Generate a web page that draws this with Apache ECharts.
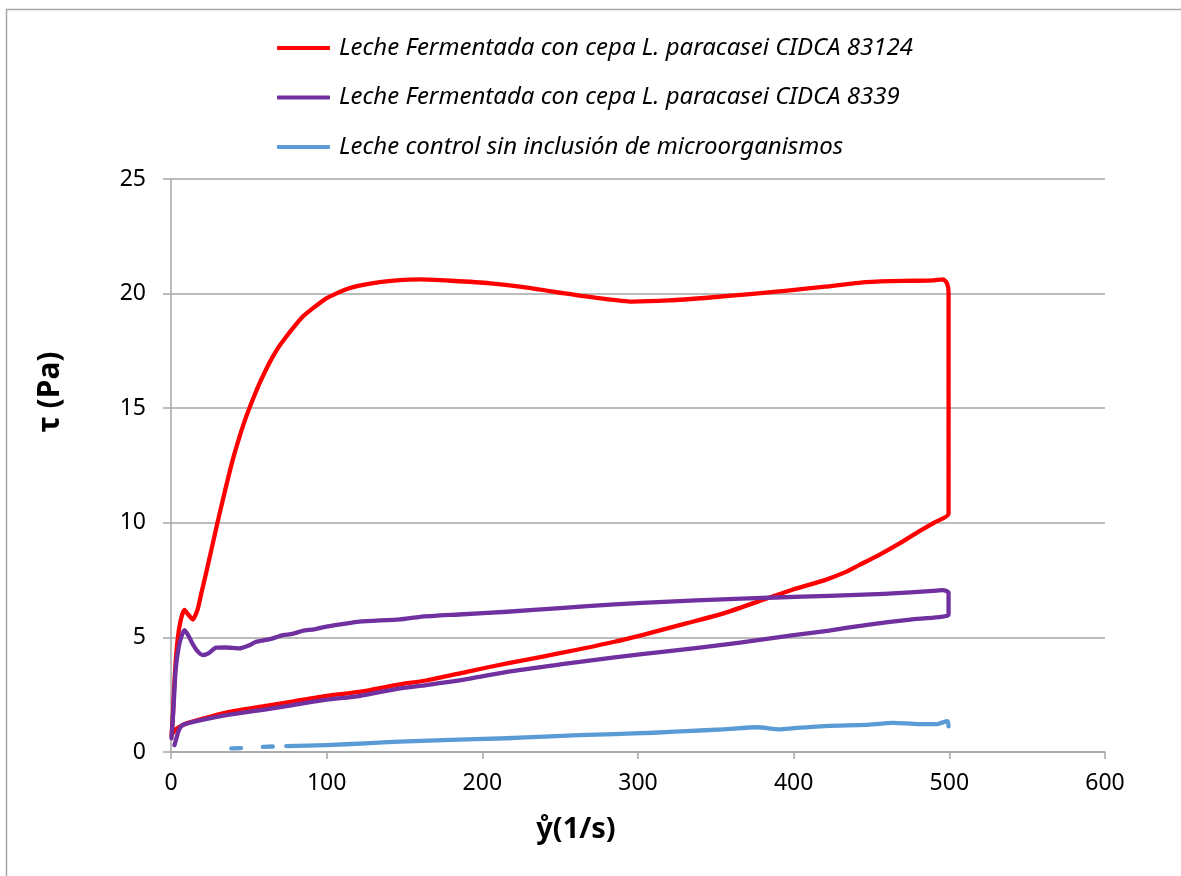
<!DOCTYPE html>
<html>
<head>
<meta charset="utf-8">
<script src="https://cdn.jsdelivr.net/npm/echarts@6/dist/echarts.min.js"></script>
<style>
html,body{margin:0;padding:0;background:#fff;}
#chart{width:1181px;height:876px;}
</style>
</head>
<body>
<div id="chart"></div>
<script>
// Series names
const seriesNames = [
  'Leche Fermentada con cepa L. paracasei CIDCA 83124',
  'Leche Fermentada con cepa L. paracasei CIDCA 8339',
  'Leche control sin inclusión de microorganismos'
];
// Axis ticks
const xTicks = [0, 100, 200, 300, 400, 500, 600];
const yTicks = [0, 5, 10, 15, 20, 25];

// Red: CIDCA 83124 (up curve then down curve) [shear rate, stress]
const redUp = [[0.4,0.7],[1.2,1.6],[2,2.8],[3.3,4.2],[5,5.3],[7,5.95],[8.7,6.2],[11,6.0],[14,5.78],[17,6.2],[19.4,6.9],[22,7.65],[24.7,8.45],[28,9.45],[31.2,10.4],[34,11.2],[37.6,12.2],[40.5,12.95],[44,13.75],[47,14.38],[50.5,15.03],[54,15.62],[57,16.1],[61,16.68],[65.4,17.25],[70,17.75],[74,18.12],[79,18.55],[84.7,19.0],[90,19.3],[95.4,19.58],[100,19.8],[106,20.0],[113,20.2],[121,20.35],[134,20.5],[145,20.58],[160,20.62],[180,20.56],[205,20.45],[230,20.25],[253,20.01],[275,19.8],[296,19.65],[320,19.7],[348,19.84],[372,19.98],[396,20.13],[420,20.3],[443,20.48],[462,20.54],[479,20.56],[490,20.58],[496,20.62],[498.5,20.45],[499.5,20.05],[499.5,15],[499.5,10.4]];
const redDown = [[490,10.0],[480,9.6],[468,9.1],[455,8.6],[442,8.15],[434,7.87],[420,7.5],[400,7.1],[377,6.56],[355,6.05],[331,5.61],[308,5.2],[285,4.81],[260,4.45],[238,4.15],[216,3.87],[190,3.5],[164,3.12],[147,2.95],[121,2.62],[100,2.45],[78,2.2],[60,2.0],[35.5,1.72],[20,1.45],[10,1.25],[5.5,1.1],[2.5,0.95],[1,0.8]];

// Purple: CIDCA 8339
const purpleUp = [[0.3,0.6],[1.5,1.8],[3,3.6],[5,4.6],[7,5.1],[8.7,5.32],[11,5.1],[14,4.7],[17,4.4],[20.4,4.23],[24,4.3],[29,4.55],[35,4.56],[44,4.52],[50,4.65],[54.7,4.81],[60,4.88],[65.4,4.96],[71.9,5.1],[78,5.15],[84.7,5.29],[92,5.35],[99.7,5.47],[110,5.58],[121,5.69],[147,5.79],[160,5.9],[185,6.0],[216,6.12],[250,6.28],[285,6.44],[320,6.56],[354,6.66],[388,6.74],[423,6.81],[458,6.9],[492,7.04],[496,7.06],[499.5,6.95],[499.5,6.5],[499.5,5.98]];
const purpleDown = [[475,5.78],[446,5.54],[423,5.3],[400,5.1],[377,4.88],[354,4.67],[320,4.4],[285,4.13],[250,3.82],[216,3.5],[192,3.2],[164,2.92],[147,2.78],[121,2.44],[100,2.28],[78.3,2.05],[60,1.85],[35.5,1.61],[20,1.4],[7.6,1.18],[5,0.95],[3.5,0.6],[2.2,0.3]];

// Blue: control (null = gap in the line)
const bluePts = [[38.7,0.16],[45,0.17],[50,null],[59,0.22],[65.4,0.24],[69,null],[74,0.26],[100,0.3],[125,0.38],[147,0.45],[175,0.52],[216,0.6],[240,0.67],[262,0.74],[285,0.78],[310,0.84],[331,0.91],[355,0.99],[377,1.08],[391,0.99],[400,1.04],[423,1.14],[446,1.18],[464,1.27],[480,1.22],[492,1.22],[498.8,1.35],[499.5,1.12]];

const colors = ['#FF0000', '#7030A0', '#5B9BD5'];
const toData = pts => pts.map(p => [p[0], p[1] === null ? '-' : p[1]]);

const chart = echarts.init(document.getElementById('chart'));
const fontFam = '"Noto Sans", "DejaVu Sans", sans-serif';
const mkSeries = (name, pts, color) => ({
  name: name,
  type: 'line',
  data: toData(pts),
  showSymbol: false,
  symbol: 'none',
  smooth: 0.2,
  connectNulls: false,
  lineStyle: { color: color, width: 4.3, cap: 'round', join: 'round' },
  itemStyle: { color: color },
  animation: false
});

chart.setOption({
  animation: false,
  backgroundColor: '#fff',
  color: colors,
  grid: { left: 171, right: 76, top: 179, bottom: 124, containLabel: false },
  legend: {
    orient: 'vertical',
    left: 277,
    top: 36,
    padding: 0,
    itemWidth: 53,
    itemHeight: 4,
    itemGap: 25.5,
    icon: 'roundRect',
    data: seriesNames,
    textStyle: { fontFamily: fontFam, fontStyle: 'italic', fontSize: 24, color: '#000', lineHeight: 24, padding: [0,0,0,4] }
  },
  xAxis: {
    type: 'value', min: 0, max: 600, interval: 100,
    axisLine: { show: true, lineStyle: { color: '#A6A6A6', width: 1.5 } },
    axisTick: { show: true, length: 7, lineStyle: { color: '#A6A6A6', width: 1.5 } },
    splitLine: { show: false },
    axisLabel: { color: '#000', fontFamily: fontFam, fontSize: 23, margin: 20,
      formatter: v => xTicks.includes(v) ? String(v) : '' }
  },
  yAxis: {
    type: 'value', min: 0, max: 25, interval: 5,
    axisLine: { show: true, lineStyle: { color: '#A6A6A6', width: 1.5 } },
    axisTick: { show: true, length: 8, lineStyle: { color: '#A6A6A6', width: 1.5 } },
    splitLine: { show: true, lineStyle: { color: '#A6A6A6', width: 1.5 } },
    axisLabel: { color: '#000', fontFamily: fontFam, fontSize: 23, margin: 25,
      formatter: v => yTicks.includes(v) ? String(v) : '' }
  },
  graphic: [
    { type: 'rect', shape: { x: 6.5, y: 9.5, width: 1400, height: 1200 }, style: { fill: 'none', stroke: '#A6A6A6', lineWidth: 1.5 }, silent: true, z: -1 },
    { type: 'text', x: 576, y: 830, style: { text: 'ẙ(1/s)', font: 'bold 29px "Noto Sans", sans-serif', fill: '#000', align: 'center', verticalAlign: 'middle' } },
    { type: 'text', x: 50, y: 392, rotation: Math.PI / 2, style: { text: 'τ (Pa)', font: 'bold 30px "Noto Sans", sans-serif', fill: '#000', align: 'center', verticalAlign: 'middle' } }
  ],
  series: [
    mkSeries(seriesNames[0], redUp.concat(redDown), colors[0]),
    mkSeries(seriesNames[1], purpleUp.concat(purpleDown), colors[1]),
    mkSeries(seriesNames[2], bluePts, colors[2])
  ]
});
</script>
</body>
</html>
